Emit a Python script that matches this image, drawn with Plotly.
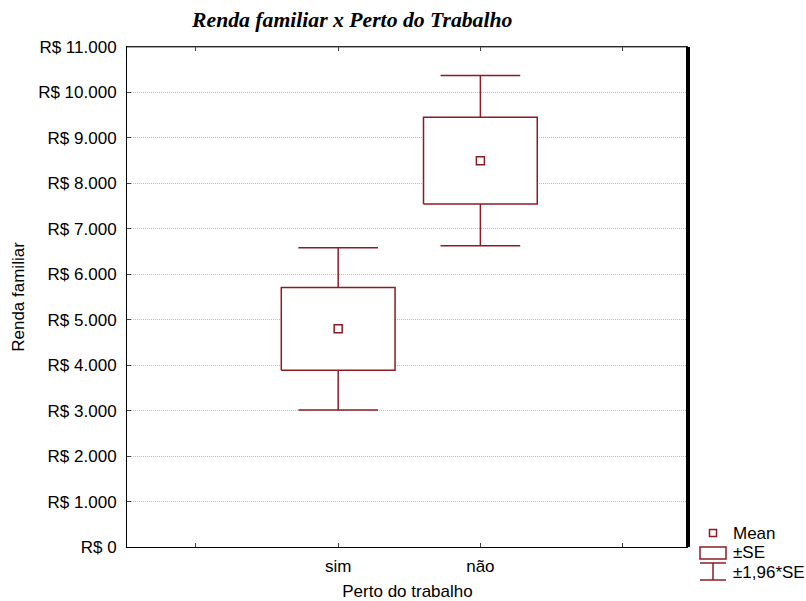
import plotly.graph_objects as go

# Income by proximity to work: mean, standard error, and 1.96*SE intervals
categories = ["sim", "não"]
cat_pos = [1, 2]
means = [4800, 8500]
se = [910, 955]
z_factor = 1.96

x_tick_vals = [0, 1, 2, 3]
x_tick_text = ["", "sim", "não", ""]
y_tick_vals = [0, 1000, 2000, 3000, 4000, 5000, 6000, 7000, 8000, 9000, 10000, 11000]
y_tick_text = ["R$ 0", "R$ 1.000", "R$ 2.000", "R$ 3.000", "R$ 4.000", "R$ 5.000",
               "R$ 6.000", "R$ 7.000", "R$ 8.000", "R$ 9.000", "R$ 10.000", "R$ 11.000"]

COLOR = "#8e1b24"
BOX_HW = 0.4
CAP_HW = 0.28
FS = 17

box_x, box_y, wh_x, wh_y = [], [], [], []
for p, m, s in zip(cat_pos, means, se):
    lo, hi = m - s, m + s
    wlo, whi = m - z_factor * s, m + z_factor * s
    box_x += [p - BOX_HW, p + BOX_HW, p + BOX_HW, p - BOX_HW, p - BOX_HW, None]
    box_y += [lo, lo, hi, hi, lo, None]
    wh_x += [p, p, None, p, p, None,
             p - CAP_HW, p + CAP_HW, None, p - CAP_HW, p + CAP_HW, None]
    wh_y += [hi, whi, None, lo, wlo, None,
             whi, whi, None, wlo, wlo, None]

fig = go.Figure()
fig.add_trace(go.Scatter(x=wh_x, y=wh_y, mode="lines",
                         line=dict(color=COLOR, width=1.5), hoverinfo="skip"))
fig.add_trace(go.Scatter(x=box_x, y=box_y, mode="lines", fill="toself",
                         fillcolor="white", line=dict(color=COLOR, width=1.5),
                         hoverinfo="skip"))
fig.add_trace(go.Scatter(x=cat_pos, y=means, mode="markers",
                         marker=dict(symbol="square-open", size=8,
                                     color=COLOR, line=dict(width=1.5))))

font_sans = "Liberation Sans, Arial, sans-serif"

# Hand-drawn legend beside the lower right corner of the plot
shapes = [
    dict(type="line", xref="paper", yref="paper", x0=0, x1=1, y0=1, y1=1,
         line=dict(color="#505050", width=1)),
    dict(type="line", xref="paper", yref="paper", x0=1, x1=1, y0=0, y1=1,
         line=dict(color="black", width=4)),
    dict(type="rect", xref="paper", yref="paper", xsizemode="pixel", ysizemode="pixel",
         xanchor=1, yanchor=0, x0=21.5, x1=28.5, y0=10.5, y1=17.5,
         line=dict(color=COLOR, width=1.5)),
    dict(type="rect", xref="paper", yref="paper", xsizemode="pixel", ysizemode="pixel",
         xanchor=1, yanchor=0, x0=12, x1=38, y0=-12, y1=0,
         line=dict(color=COLOR, width=1.5)),
    dict(type="line", xref="paper", yref="paper", xsizemode="pixel", ysizemode="pixel",
         xanchor=1, yanchor=0, x0=12, x1=38, y0=-16, y1=-16,
         line=dict(color=COLOR, width=1.5)),
    dict(type="line", xref="paper", yref="paper", xsizemode="pixel", ysizemode="pixel",
         xanchor=1, yanchor=0, x0=12, x1=38, y0=-33, y1=-33,
         line=dict(color=COLOR, width=1.5)),
    dict(type="line", xref="paper", yref="paper", xsizemode="pixel", ysizemode="pixel",
         xanchor=1, yanchor=0, x0=25, x1=25, y0=-16, y1=-33,
         line=dict(color=COLOR, width=1.5)),
]

legend_items = [("Mean", 14), ("±SE", -5), ("±1,96*SE", -25)]
annotations = [
    dict(text=t, xref="paper", yref="paper", x=1, y=0, xshift=43, yshift=dy,
         xanchor="left", yanchor="middle", showarrow=False,
         font=dict(family=font_sans, size=FS, color="black"))
    for t, dy in legend_items
]

fig.update_layout(
    width=806, height=601,
    margin=dict(l=127, r=118, t=47, b=54),
    paper_bgcolor="white", plot_bgcolor="white",
    showlegend=False,
    title=dict(text="Renda familiar x Perto do Trabalho",
               x=0.437, xanchor="center", y=0.968, yanchor="middle",
               font=dict(family="Liberation Serif, Times New Roman, serif",
                         size=21.7, color="black", weight="bold", style="italic")),
    xaxis=dict(range=[-0.485, 3.46], tickvals=x_tick_vals, ticktext=x_tick_text,
               showgrid=False, zeroline=False, showline=True, linecolor="black",
               linewidth=1, mirror="ticks", ticks="inside", ticklen=4,
               tickcolor="#404040", ticklabelstandoff=4, automargin=False,
               tickfont=dict(family=font_sans, size=FS, color="black"),
               title=dict(text="Perto do trabalho", standoff=10,
                          font=dict(family=font_sans, size=FS, color="black"))),
    yaxis=dict(range=[0, 11000], tickvals=y_tick_vals, ticktext=y_tick_text,
               showgrid=True, gridcolor="#bcbcbc", griddash="1px,1px", gridwidth=1,
               zeroline=False, showline=True, linecolor="black", linewidth=1,
               mirror=False, ticks="inside", ticklen=4, tickcolor="#404040",
               ticklabelstandoff=6, automargin=False,
               tickfont=dict(family=font_sans, size=FS, color="black"),
               title=dict(text="Renda familiar", standoff=9,
                          font=dict(family=font_sans, size=FS, color="black"))),
    shapes=shapes,
    annotations=annotations,
)

fig.write_html("out.html")
